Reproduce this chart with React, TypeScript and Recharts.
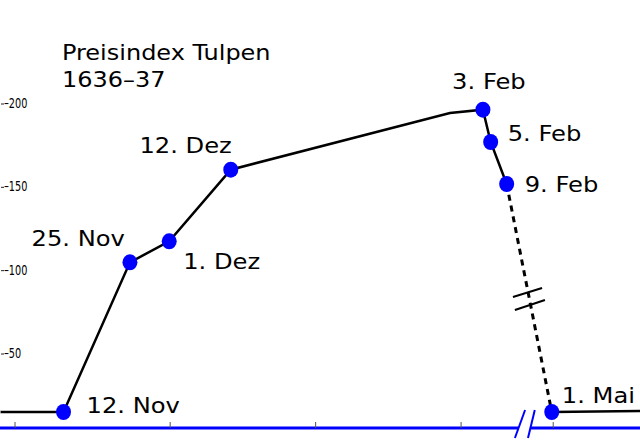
import { ComposedChart, Line, Scatter, XAxis, YAxis, ReferenceLine } from "recharts";

// x position in days (Nov 1 1636 = 0, axis compressed after Feb)
const dayPos = [-4, 10, 23.7, 31.8, 44.5, 89.7, 96.5, 98.1, 101.4, 110.7, 130];
const priceIndex = [14.6, 14.6, 104.4, 117, 160, 194, 196, 176.6, 151.4, 14.6, 15.2];
const pointLabels = ["", "12. Nov", "25. Nov", "1. Dez", "12. Dez", "", "3. Feb", "5. Feb", "9. Feb", "1. Mai", ""];
const monthTicks = [0, 32, 62, 92, 111];
const valueTicks = [50, 100, 150, 200];

const labelPlacement: Record<string, { dx: number; dy: number; anchor: string }> = {
  "12. Nov": { dx: 23, dy: -7, anchor: "start" },
  "25. Nov": { dx: -5, dy: -24, anchor: "end" },
  "1. Dez": { dx: 14, dy: 20, anchor: "start" },
  "12. Dez": { dx: 1, dy: -24, anchor: "end" },
  "3. Feb": { dx: 6, dy: -28, anchor: "middle" },
  "5. Feb": { dx: 17, dy: -9, anchor: "start" },
  "9. Feb": { dx: 18, dy: 0, anchor: "start" },
  "1. Mai": { dx: 10, dy: -17, anchor: "start" },
};

const table = dayPos.map((day, i) => ({
  day,
  solid: i <= 8 ? priceIndex[i] : null,
  dashed: i === 8 || i === 9 ? priceIndex[i] : null,
  tail: i >= 9 ? priceIndex[i] : null,
}));

const markers = dayPos
  .map((day, i) => ({ day, price: priceIndex[i], label: pointLabels[i] }))
  .filter((p) => p.label !== "");

const font = "'DejaVu Sans', Verdana, sans-serif";
const blue = "#0000ff";

function Marker(props: any) {
  const { cx, cy, payload } = props;
  const place = labelPlacement[payload.label];
  return (
    <g>
      <ellipse cx={cx} cy={cy} rx={7.5} ry={8} fill={blue} />
      <g transform={`translate(${cx + place.dx},${cy + place.dy}) scale(1.1,1)`}>
        <text
          x={0}
          y={0}
          textAnchor={place.anchor as any}
          dominantBaseline="central"
          fontFamily={font}
          fontSize={22}
          fill="#000"
        >
          {payload.label}
        </text>
      </g>
    </g>
  );
}

function MonthTick(props: any) {
  const { x, y } = props;
  return <line x1={x} x2={x} y1={y - 6} y2={y} stroke="#555" strokeWidth={1} />;
}

function ValueTick(props: any) {
  const { y, payload } = props;
  return (
    <g>
      <line x1={1} x2={4} y1={y + 1} y2={y + 1} stroke="#222" strokeWidth={1} />
      <g transform={`translate(4,${y + 5}) scale(0.8,1)`}>
        <text
          x={0}
          y={0}
          fontFamily="'Liberation Sans Narrow', 'DejaVu Sans Condensed', sans-serif"
          fontSize={13.5}
          fill="#000"
        >
          {"–" + payload.value}
        </text>
      </g>
    </g>
  );
}

export default function App() {
  return (
    <div style={{ position: "absolute", left: 0, top: 0, width: 640, height: 440, background: "#fff" }}>
      <div
        style={{
          position: "absolute",
          left: 62,
          top: 39,
          fontFamily: font,
          fontSize: 22,
          lineHeight: "27px",
          color: "#000",
          transform: "scaleX(1.09)",
          transformOrigin: "left top",
          whiteSpace: "nowrap",
        }}
      >
        Preisindex Tulpen
        <br />
        1636–37
      </div>
      <ComposedChart width={640} height={440} data={table} margin={{ top: 0, right: 0, left: -1, bottom: 0 }}>
        <XAxis
          dataKey="day"
          type="number"
          domain={[-3.1, 128.9]}
          ticks={monthTicks}
          allowDataOverflow
          height={12}
          axisLine={false}
          tickLine={false}
          tickSize={0}
          tickMargin={0}
          tick={<MonthTick />}
        />
        <YAxis
          type="number"
          domain={[5, 261.8]}
          ticks={valueTicks}
          allowDataOverflow
          width={1}
          axisLine={false}
          tickLine={false}
          tick={<ValueTick />}
        />
        {/* x axis line with a break */}
        <ReferenceLine segment={[{ x: -3.1, y: 5 }, { x: 103.9, y: 5 }]} stroke={blue} strokeWidth={3} ifOverflow="visible" />
        <ReferenceLine segment={[{ x: 106.2, y: 5 }, { x: 128.9, y: 5 }]} stroke={blue} strokeWidth={3} ifOverflow="visible" />
        <ReferenceLine segment={[{ x: 103.1, y: -1 }, { x: 105.2, y: 15.8 }]} stroke={blue} strokeWidth={2} ifOverflow="visible" />
        <ReferenceLine segment={[{ x: 105.8, y: -1 }, { x: 107.2, y: 15.8 }]} stroke={blue} strokeWidth={2} ifOverflow="visible" />
        <Scatter data={markers} dataKey="price" shape={<Marker />} isAnimationActive={false} />
        <Line type="linear" dataKey="solid" stroke="#000" strokeWidth={2.5} dot={false} isAnimationActive={false} />
        <Line
          type="linear"
          dataKey="dashed"
          stroke="#000"
          strokeWidth={3}
          strokeDasharray="6 5"
          dot={false}
          isAnimationActive={false}
        />
        <Line type="linear" dataKey="tail" stroke="#000" strokeWidth={2.5} dot={false} isAnimationActive={false} />
        {/* break marks on the dashed segment */}
        <ReferenceLine segment={[{ x: 102.7, y: 83.6 }, { x: 108.7, y: 89.0 }]} stroke="#000" strokeWidth={2} ifOverflow="visible" />
        <ReferenceLine segment={[{ x: 103.1, y: 75.8 }, { x: 109.3, y: 81.8 }]} stroke="#000" strokeWidth={2} ifOverflow="visible" />
      </ComposedChart>
    </div>
  );
}
